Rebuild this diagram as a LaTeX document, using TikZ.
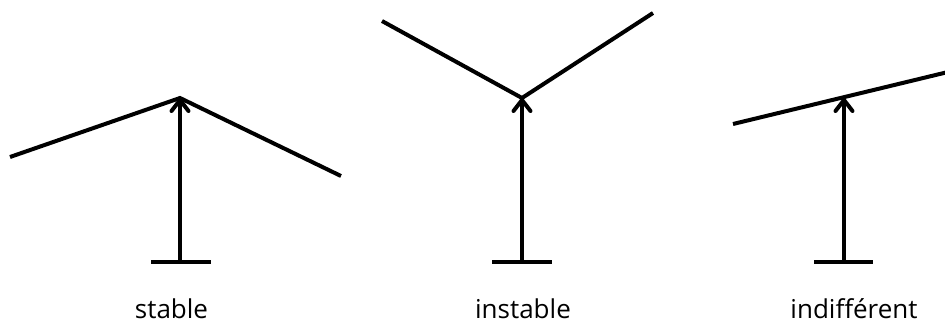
\documentclass[tikz,border=0pt]{standalone}
\usepackage{fontspec}
\setmainfont{Open Sans}
\usetikzlibrary{arrows.meta}
\begin{document}
\begin{tikzpicture}[x=1pt,y=-1pt,
  bar/.style={line width=4pt},
  stem/.style={line width=4pt,-{Straight Barb[length=11pt,width=17pt,round]}},
  lbl/.style={font=\fontsize{26}{28}\selectfont,anchor=base,inner sep=0pt}]
\useasboundingbox (0,0) rectangle (945,325);
% stable
\coordinate (a1) at (180,98);
\coordinate (l1) at (10,157);
\coordinate (r1) at (341,176);
\coordinate (b1) at (180,262);
\coordinate (bl1) at (151,262);
\coordinate (br1) at (211,262);
\draw[bar] (l1) -- (a1) -- (r1);
\draw[bar] (bl1) -- (br1);
\draw[stem] (b1) -- (a1);
\node[lbl] (t1) at (171.5,318) {stable};
% instable
\coordinate (a2) at (522,98);
\coordinate (l2) at (382,21);
\coordinate (r2) at (653,13);
\coordinate (b2) at (522,262);
\coordinate (bl2) at (492,262);
\coordinate (br2) at (552,262);
\draw[bar] (l2) -- (a2) -- (r2);
\draw[bar] (bl2) -- (br2);
\draw[stem] (b2) -- (a2);
\node[lbl] (t2) at (523,318) {instable};
% indifferent
\coordinate (a3) at (844,98);
\coordinate (l3) at (733,124);
\coordinate (r3) at (948,72);
\coordinate (b3) at (844,262);
\coordinate (bl3) at (814,262);
\coordinate (br3) at (873,262);
\draw[bar] (l3) -- (r3);
\draw[bar] (bl3) -- (br3);
\draw[stem] (b3) -- (a3);
\node[lbl] (t3) at (854,318) {indifférent};
\end{tikzpicture}
\end{document}
